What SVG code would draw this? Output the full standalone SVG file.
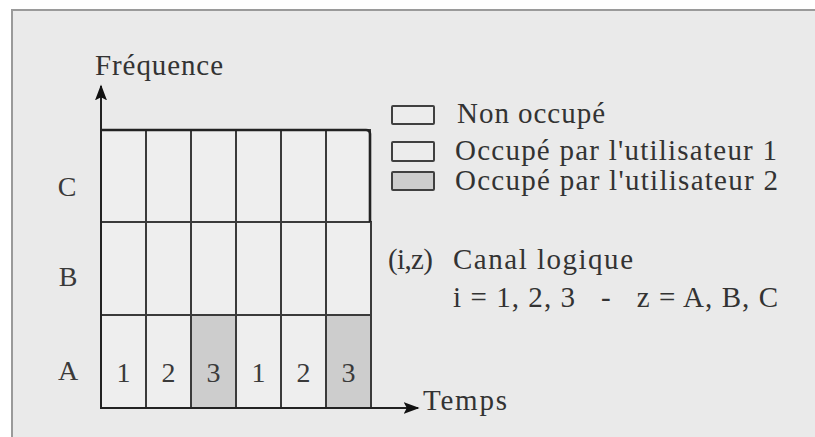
<svg xmlns="http://www.w3.org/2000/svg" width="815" height="437" viewBox="0 0 815 437">
  <style>
    .t { font-family: "Liberation Serif", "Times New Roman", serif; font-size: 29px; fill: #333333; }
    .n { font-family: "Liberation Serif", "Times New Roman", serif; font-size: 28px; fill: #3a3a3a; text-anchor: middle; }
    .cell { fill: #eeeeee; stroke: #3a3a3a; stroke-width: 2; }
    .busy { fill: #cdcdcd; stroke: #3a3a3a; stroke-width: 2; }
    .lbox { fill: #ececec; stroke: #404040; stroke-width: 2; }
    .axis { stroke: #222222; stroke-width: 2; fill: none; }
  </style>
  <defs>
    <marker id="arr" viewBox="0 0 10 10" refX="9" refY="5" markerWidth="16" markerHeight="12" markerUnits="userSpaceOnUse" orient="auto" preserveAspectRatio="none">
      <path d="M0,0 L10,5 L0,10 L2,5 z" fill="#111111"/>
    </marker>
  </defs>

  <!-- frame -->
  <rect x="0" y="0" width="815" height="437" fill="#ffffff"/>
  <rect x="12" y="10" width="830" height="450" fill="#eaeaea" stroke="#9a9a9a" stroke-width="2"/>

  <!-- grid -->
  <g id="grid">
    <g id="rowC">
      <rect class="cell" x="101" y="130" width="45" height="92"/>
      <rect class="cell" x="146" y="130" width="45" height="92"/>
      <rect class="cell" x="191" y="130" width="45" height="92"/>
      <rect class="cell" x="236" y="130" width="45" height="92"/>
      <rect class="cell" x="281" y="130" width="45" height="92"/>
      <rect class="cell" x="326" y="130" width="44" height="92"/>
    </g>
    <g id="rowB">
      <rect class="cell" x="101" y="222" width="45" height="93"/>
      <rect class="cell" x="146" y="222" width="45" height="93"/>
      <rect class="cell" x="191" y="222" width="45" height="93"/>
      <rect class="cell" x="236" y="222" width="45" height="93"/>
      <rect class="cell" x="281" y="222" width="45" height="93"/>
      <rect class="cell" x="326" y="222" width="45" height="93"/>
    </g>
    <g id="rowA">
      <rect class="cell" x="101" y="315" width="45" height="93"/>
      <rect class="cell" x="146" y="315" width="45" height="93"/>
      <rect class="busy" x="191" y="315" width="45" height="93"/>
      <rect class="cell" x="236" y="315" width="45" height="93"/>
      <rect class="cell" x="281" y="315" width="45" height="93"/>
      <rect class="busy" x="326" y="315" width="45" height="93"/>
      <text class="n" x="123.5" y="382">1</text>
      <text class="n" x="168.5" y="382">2</text>
      <text class="n" x="213.5" y="382">3</text>
      <text class="n" x="258.5" y="382">1</text>
      <text class="n" x="303.5" y="382">2</text>
      <text class="n" x="348.5" y="382">3</text>
    </g>
    <path d="M101,130 L366,130 Q370,130 370,134 L370,222" stroke="#222222" stroke-width="2.6" fill="none"/>
  </g>

  <!-- connectors (axes) -->
  <g id="connectors">
    <line class="axis" x1="101" y1="408" x2="101" y2="86" marker-end="url(#arr)"/>
    <line class="axis" x1="100" y1="408" x2="418" y2="408" marker-end="url(#arr)"/>
  </g>

  <!-- axis labels -->
  <g id="axis-labels">
    <text class="t" x="95" y="75" textLength="128">Fréquence</text>
    <text class="t" x="423" y="410" textLength="84">Temps</text>
  </g>

  <!-- row labels -->
  <g id="row-labels">
    <text class="n" x="67" y="196">C</text>
    <text class="n" x="68" y="286">B</text>
    <text class="n" x="68" y="380">A</text>
  </g>

  <!-- legend -->
  <g id="legend-non-occupe">
    <rect class="lbox" x="392" y="106" width="42" height="18" rx="1"/>
    <text class="t" x="457" y="123" textLength="148">Non occupé</text>
  </g>
  <g id="legend-util1">
    <rect class="lbox" x="392" y="142" width="42" height="19" rx="1"/>
    <text class="t" x="455" y="160" textLength="322">Occupé par l'utilisateur  1</text>
  </g>
  <g id="legend-util2">
    <rect class="lbox" x="392" y="172" width="42" height="18" rx="1" style="fill:#cdcdcd"/>
    <text class="t" x="455" y="190" textLength="323">Occupé par l'utilisateur  2</text>
  </g>
  <g id="legend-canal">
    <text class="t" x="388" y="269" textLength="45">(i,z)</text>
    <text class="t" x="453" y="269" textLength="180">Canal  logique</text>
    <text class="t" x="453" y="307" textLength="325" xml:space="preserve">i = 1, 2, 3   -   z = A, B, C</text>
  </g>
</svg>
